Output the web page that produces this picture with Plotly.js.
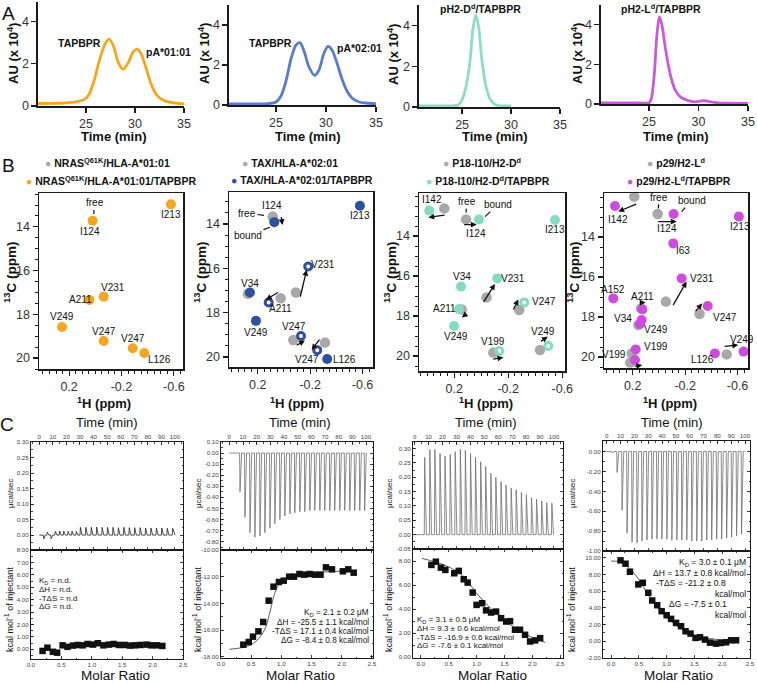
<!DOCTYPE html>
<html>
<head>
<meta charset="utf-8">
<script src="https://cdn.plot.ly/plotly-3.0.1.min.js"></script>
<style>
  html, body { margin: 0; padding: 0; background: #fff; }
  #chart { width: 757px; height: 683px; }
</style>
</head>
<body>
<div id="chart"></div>
<script>
// TAPBPR figure: SEC traces (A), methyl NMR (B), ITC (C)

// ---- A: size exclusion traces ----
const secTimeA1 = [20.1, 21, 22, 23, 24, 24.8, 25.3, 25.8, 26.3, 26.9, 27.35, 27.8, 28.3, 28.8, 29.3, 29.8, 30.2, 30.6, 31.1, 31.6, 32.1, 32.6, 33.2, 34, 35];
const secAuA1 = [0.12, 0.12, 0.13, 0.15, 0.2, 0.3, 0.55, 1.15, 2.05, 2.9, 3.17, 2.85, 2.05, 1.75, 2.05, 2.55, 2.7, 2.5, 1.85, 1.1, 0.6, 0.35, 0.22, 0.15, 0.1];
const secTimeA2 = [20.3, 22, 24, 24.6, 25, 25.5, 26, 26.5, 27, 27.4, 27.8, 28.3, 28.85, 29.3, 29.8, 30.2, 30.6, 31.1, 31.6, 32.1, 32.6, 33.3, 34, 35];
const secAuA2 = [0.05, 0.05, 0.06, 0.09, 0.15, 0.45, 1.2, 2.3, 3.0, 3.12, 2.7, 1.9, 1.48, 1.75, 2.6, 2.93, 2.75, 2.1, 1.3, 0.7, 0.35, 0.15, 0.1, 0.06];
const secTimeA3 = [20.6, 22, 24, 24.6, 25, 25.4, 25.8, 26.1, 26.4, 26.7, 27.0, 27.4, 27.8, 28.2, 28.6, 29, 30];
const secAuA3 = [0.05, 0.05, 0.06, 0.1, 0.35, 1.0, 2.2, 3.8, 4.5, 3.9, 2.4, 1.1, 0.45, 0.18, 0.08, 0.06, 0.05];
const secTimeA4 = [20.15, 22, 24, 25, 25.2, 25.5, 25.8, 26.05, 26.3, 26.6, 26.9, 27.3, 27.7, 28.2, 28.7, 29.2, 29.7, 30.2, 30.6, 31.1, 32, 33, 35];
const secAuA4 = [0.05, 0.05, 0.05, 0.06, 0.2, 1.3, 3.5, 4.4, 4.0, 3.0, 2.1, 1.2, 0.65, 0.35, 0.22, 0.14, 0.11, 0.15, 0.17, 0.12, 0.06, 0.04, 0.03];
const secColors = ['#f4a622', '#5b7cc6', '#8fdcc3', '#c95ad8'];

// ---- B: NMR peaks (ppm) ----
const b1PeakX = [0.02, -0.578, 0.046, -0.064, 0.254, -0.064, -0.286, -0.374];
const b1PeakY = [13.72, 12.97, 17.34, 17.19, 18.58, 19.22, 19.55, 19.77];
const b1LabText = ['I124', 'I213', 'A211', 'V231', 'V249', 'V247', 'V247', 'L126'];
const b1LabX = [0.043, -0.578, 0.114, -0.133, 0.254, -0.067, -0.286, -0.489];
const b1LabY = [14.22, 13.42, 17.3, 16.78, 18.11, 18.78, 19.12, 20.06];

const b2GreyX = [0.086, 0.275, 0.025, -0.091, -0.071, -0.313];
const b2GreyY = [13.67, 17.15, 17.35, 17.09, 19.23, 19.35];
const b2FillX = [0.074, -0.58, 0.26, 0.214, -0.33];
const b2FillY = [13.92, 13.18, 17.09, 18.37, 20.09];
const b2OpenX = [-0.185, 0.117, -0.13, -0.254];
const b2OpenY = [15.92, 17.54, 19.05, 19.69];
const b2LabText = ['I124', 'I213', 'V231', 'V34', 'A211', 'V249', 'V247', 'V247', 'L126'];
const b2LabX = [0.094, -0.58, -0.295, 0.26, 0.03, 0.21, -0.08, -0.173, -0.466];
const b2LabY = [13.19, 13.6, 15.85, 16.7, 17.8, 18.88, 18.63, 20.09, 20.13];
const b2Arrows = [[0.022, 13.62, 0.012, 14.05], [-0.122, 17.35, -0.173, 16.07], [0.036, 17.05, 0.138, 17.42], [-0.086, 19.5, -0.16, 19.26], [-0.28, 19.15, -0.211, 19.68]];

const b3GreyX = [0.273, 0.112, -0.04, 0.144, -0.282, -0.09, -0.435];
const b3GreyY = [12.62, 13.17, 17.07, 17.67, 17.7, 19.83, 19.7];
const b3FillX = [0.384, 0.016, -0.546, 0.149, -0.119, 0.164, 0.2];
const b3FillY = [12.73, 13.17, 13.2, 16.53, 16.12, 17.65, 18.5];
const b3OpenX = [-0.319, -0.134, -0.496];
const b3OpenY = [17.32, 19.75, 19.5];
const b3LabText = ['I142', 'I124', 'I213', 'V34', 'V231', 'A211', 'V249', 'V247', 'V199', 'V249'];
const b3LabX = [0.366, 0.041, -0.546, 0.144, -0.233, 0.268, 0.19, -0.467, -0.09, -0.459];
const b3LabY = [12.2, 13.87, 13.7, 16.03, 16.12, 17.62, 19.03, 17.28, 19.28, 18.79];
const b3Arrows = [[0.26, 12.95, 0.391, 13.07], [0.137, 13.43, 0.033, 13.43], [-0.011, 17.37, -0.102, 16.4], [0.103, 17.87, 0.144, 18.07], [-0.233, 17.75, -0.275, 17.17], [-0.078, 20.17, -0.164, 20.07], [-0.43, 19.33, -0.492, 19.03]];

const b4GreyX = [0.189, 0.01, -0.053, 0.138, 0.158, -0.31, 0.209, 0.22, -0.517];
const b4GreyY = [11.98, 12.85, 17.23, 17.57, 18.4, 17.85, 19.82, 20.28, 19.87];
const b4FillX = [0.336, -0.112, -0.61, -0.109, -0.173, 0.349, 0.127, 0.132, 0.145, -0.372, 0.178, 0.183, -0.427, -0.646];
const b4FillY = [12.45, 12.85, 12.98, 14.32, 16.07, 17.07, 17.62, 18.15, 18.35, 17.45, 19.62, 20.15, 19.82, 19.73];
const b4LabText = ['I142', 'I124', 'I213', 'I63', 'V231', 'A152', 'A211', 'V34', 'V249', 'V247', 'V199', 'V199', 'L126', 'V249'];
const b4LabX = [0.315, -0.059, -0.62, -0.185, -0.326, 0.349, 0.127, 0.273, 0.025, -0.504, 0.025, 0.341, -0.33, -0.631];
const b4LabY = [13.15, 13.57, 13.48, 14.68, 16.07, 16.62, 16.98, 18.07, 18.62, 18.02, 19.48, 19.9, 20.15, 19.15];
const b4Arrows = [[0.163, 12.32, 0.311, 12.73], [0.018, 13.23, -0.135, 13.23], [-0.102, 17.48, -0.211, 16.23], [0.153, 17.28, 0.102, 17.28], [-0.27, 17.78, -0.33, 17.32], [0.196, 20.48, 0.128, 20.4], [-0.49, 19.48, -0.605, 19.4]];

// free / bound leader labels: [x, y, ax, ay]
const freeMarks = [[0.012, 13.41, 1, -11], [0.153, 13.61, -17, -2], [0.112, 12.83, 1, -11], [0.005, 12.57, 1, -11]];
const boundMarks = [null, [0.107, 14.15, -22, 8], [-0.028, 13.03, 13, -12], [-0.173, 12.73, 10, -11]];

const legendGrey = ['NRAS<sup>Q61K</sup>/HLA-A*01:01', 'TAX/HLA-A*02:01', 'P18-I10/H2-D<sup>d</sup>', 'p29/H2-L<sup>d</sup>'];
const legendColor = ['NRAS<sup>Q61K</sup>/HLA-A*01:01/TAPBPR', 'TAX/HLA-A*02:01/TAPBPR', 'P18-I10/H2-D<sup>d</sup>/TAPBPR', 'p29/H2-L<sup>d</sup>/TAPBPR'];
const nmrColors = ['#f4a622', '#2f4f9f', '#84dbbf', '#cc4ddc'];
const nmrGrey = '#a8a8a8';

// ---- C: ITC raw injections (time min, peak ucal/sec) ----
const itcTimeC1 = [3, 5.6, 8.4, 11.5, 14.7, 17.7, 20.9, 23.8, 27, 30, 34, 38, 42, 46, 50, 54, 58, 62, 66, 70, 74, 78, 82, 86, 90, 94, 98];
const itcPeakC1 = [-0.012, 0.01, -0.012, 0.012, 0.013, 0.013, 0.012, 0.013, 0.012, 0.025, 0.025, 0.025, 0.026, 0.025, 0.025, 0.025, 0.024, 0.025, 0.024, 0.024, 0.024, 0.023, 0.023, 0.023, 0.023, 0.022, 0.022];
const itcTimeC2 = [7.5, 11.1, 14.8, 18.4, 22.1, 25.7, 29.4, 33, 36.7, 40.3, 44, 47.6, 51.3, 54.9, 58.6, 62.2, 65.9, 69.5, 73.2, 76.8, 80.5, 84.1, 87.8, 91.4, 95.1, 98.7];
const itcPeakC2 = [-0.35, -0.58, -0.72, -0.76, -0.75, -0.72, -0.68, -0.64, -0.6, -0.57, -0.55, -0.54, -0.53, -0.53, -0.52, -0.52, -0.52, -0.52, -0.52, -0.52, -0.52, -0.52, -0.52, -0.52, -0.52, -0.52];
const itcTimeC3 = [6.9, 10.6, 14.2, 17.9, 21.5, 25.2, 28.8, 32.5, 36.1, 39.8, 43.4, 47.1, 50.7, 54.4, 58, 61.7, 65.3, 69, 72.6, 76.3, 79.9, 83.6, 87.2, 90.9, 94.5, 98.2];
const itcPeakC3 = [0.27, 0.297, 0.297, 0.283, 0.274, 0.28, 0.289, 0.297, 0.294, 0.283, 0.27, 0.254, 0.237, 0.214, 0.2, 0.185, 0.173, 0.162, 0.156, 0.147, 0.139, 0.129, 0.124, 0.118, 0.112, 0.11];
const itcTimeC4 = [3.6, 7.2, 10.8, 14.4, 18, 21.6, 25.2, 28.8, 32.4, 36, 39.6, 43.2, 46.8, 50.4, 54, 57.6, 61.2, 64.8, 68.4, 72, 75.6, 79.2, 82.8, 86.4, 90, 93.6, 97.2];
const itcPeakC4 = [-0.015, -0.21, -0.59, -0.82, -0.91, -0.92, -0.9, -0.89, -0.88, -0.88, -0.88, -0.88, -0.89, -0.89, -0.89, -0.89, -0.9, -0.9, -0.9, -0.89, -0.89, -0.88, -0.88, -0.87, -0.86, -0.85, -0.83];

// ---- C: integrated heats (molar ratio, kcal/mol) ----
const isoXC1 = [0.19, 0.27, 0.36, 0.43, 0.52, 0.6, 0.69, 0.77, 0.85, 0.93, 1.02, 1.1, 1.19, 1.28, 1.36, 1.45, 1.54, 1.63, 1.71, 1.8, 1.9, 1.98, 2.07, 2.16];
const isoYC1 = [-0.13, 0.13, -0.2, -0.27, 0.32, 0.2, 0.3, 0.35, 0.32, 0.43, 0.38, 0.49, 0.32, 0.38, 0.43, 0.35, 0.35, 0.3, 0.32, 0.35, 0.38, 0.32, 0.32, 0.27];
const isoXC2 = [0.37, 0.46, 0.53, 0.62, 0.7, 0.79, 0.87, 0.96, 1.04, 1.13, 1.21, 1.3, 1.38, 1.47, 1.56, 1.65, 1.74, 1.84, 2.02, 2.11, 2.2];
const isoYC2 = [-17.1, -16.9, -16.5, -16.1, -15.4, -13.8, -12.75, -12.4, -12.3, -12.0, -12.0, -11.8, -11.85, -11.8, -11.85, -11.85, -11.3, -11.45, -11.6, -11.45, -11.7];
const fitXC2 = [0.14, 0.37, 0.54, 0.65, 0.74, 0.82, 0.89, 0.96, 1.07, 1.27, 1.55, 1.94, 2.25];
const fitYC2 = [-17.45, -17.3, -17.0, -16.5, -15.8, -14.5, -13.25, -12.6, -12.2, -11.9, -11.7, -11.6, -11.57];
const isoXC3 = [0.19, 0.27, 0.36, 0.44, 0.6, 0.68, 0.77, 0.84, 0.93, 1.0, 1.1, 1.17, 1.26, 1.35, 1.44, 1.53, 1.6, 1.69, 1.78, 1.87, 1.96, 2.05, 2.14];
const isoYC3 = [7.7, 7.97, 7.47, 7.28, 7.0, 7.2, 6.5, 6.22, 5.39, 4.36, 4.5, 3.9, 3.72, 3.8, 3.25, 2.97, 3.0, 2.28, 2.28, 1.86, 1.3, 1.39, 1.58];
const fitXC3 = [0.02, 0.47, 0.77, 1.0, 1.25, 1.49, 1.72, 1.96, 2.23];
const fitYC3 = [8.25, 7.6, 6.72, 5.33, 4.08, 3.1, 2.33, 1.72, 1.22];
const isoXC4 = [0.17, 0.26, 0.34, 0.49, 0.57, 0.67, 0.74, 0.83, 0.91, 1.0, 1.08, 1.17, 1.26, 1.34, 1.43, 1.52, 1.6, 1.69, 1.78, 1.89, 1.98, 2.07, 2.16, 2.25];
const isoYC4 = [9.68, 9.28, 8.32, 6.8, 7.0, 5.8, 4.88, 4.32, 3.6, 3.12, 2.68, 2.2, 1.8, 1.2, 0.92, 0.4, 0.48, 0.2, -0.16, -0.28, -0.2, -0.12, 0.12, 0.12];
const fitXC4 = [0.0, 0.17, 0.32, 0.5, 0.68, 0.86, 1.04, 1.28, 1.52, 1.77, 2.0, 2.25];
const fitYC4 = [9.6, 9.48, 8.8, 7.4, 5.4, 3.8, 2.6, 1.4, 0.68, 0.32, 0.2, 0.2];

const itcTextC1 = ['K<sub>D</sub> = n.d.', 'ΔH = n.d.', '-TΔS = n.d', 'ΔG = n.d.'];
const itcTextC2 = ['K<sub>D</sub> = 2.1 ± 0.2 μM', 'ΔH = -25.5 ± 1.1 kcal/mol', '-TΔS = 17.1 ± 0.4 kcal/mol', 'ΔG = -8.4 ± 0.8 kcal/mol'];
const itcTextC3 = ['K<sub>D</sub> = 3.1 ± 0.5 μM', 'ΔH = 9.3 ± 0.6 kcal/mol', '-TΔS = -16.9 ± 0.6 kcal/mol', 'ΔG = -7.6 ± 0.1 kcal/mol'];
const itcTextC4 = ['K<sub>D</sub> = 3.0 ± 0.1 μM', 'ΔH = 13.7 ± 0.8 kcal/mol', '-TΔS = -21.2 ± 0.8', 'kcal/mol', 'ΔG = -7.5 ± 0.1', 'kcal/mol'];

// ---------------------------------------------------------------
const W = 757, H = 683;
const FONT = 'Arial, "Liberation Sans", sans-serif';
const dom = (a, b) => [a / W, b / W];
const domY = (top, bottom) => [1 - bottom / H, 1 - top / H];
const sfx = n => (n === 1 ? '' : String(n));

const traces = [];
const annotations = [];
const layout = {
    width: W, height: H,
    margin: { l: 0, r: 0, t: 0, b: 0 },
    paper_bgcolor: '#fff', plot_bgcolor: 'rgba(0,0,0,0)',
    showlegend: false,
    font: { family: FONT, color: '#111' },
    annotations: annotations
};

const baseAxis = { showgrid: false, zeroline: false, showline: true, linecolor: '#1a1a1a', tickcolor: '#1a1a1a', fixedrange: true };

function setAxes(n, xd, yd, xopt, yopt) {
    layout['xaxis' + sfx(n)] = Object.assign({ domain: xd, anchor: 'y' + sfx(n) }, baseAxis, xopt);
    layout['yaxis' + sfx(n)] = Object.assign({ domain: yd, anchor: 'x' + sfx(n) }, baseAxis, yopt);
}

function note(x, y, text, size, opts) {
    return Object.assign({
        xref: 'paper', yref: 'paper', x: x / W, y: 1 - y / H, text: text, showarrow: false,
        xanchor: 'center', yanchor: 'middle', font: { family: FONT, size: size, color: '#111' }
    }, opts || {});
}

const fmt = (vals, d) => vals.map(v => v.toFixed(d));

// ---- Row A ----
const secX = [[38, 184], [229, 376], [419, 560], [601, 748]];
const secY = [[2, 106], [5, 105], [5, 107], [5, 104]];
const secXr = [[20.1, 35], [20.3, 35], [20.6, 35], [20.15, 35]];
const secYr = [[0, 4.93], [0, 5], [0, 5], [0, 5]];
const secTimes = [secTimeA1, secTimeA2, secTimeA3, secTimeA4];
const secAus = [secAuA1, secAuA2, secAuA3, secAuA4];

secTimes.forEach((t, i) => {
    const n = i + 1;
    setAxes(n, dom(secX[i][0], secX[i][1]), domY(secY[i][0], secY[i][1]),
        { range: secXr[i], tickvals: [25, 30, 35], ticks: 'outside', ticklen: 5, tickwidth: 1.3, linewidth: 1.6,
          tickfont: { size: 12.5, color: '#333' } },
        { range: secYr[i], tickvals: [0, 2, 4], ticks: 'outside', ticklen: 5, tickwidth: 1.3, linewidth: 1.6,
          tickfont: { size: 12.5, color: '#333' } });
    traces.push({
        x: t, y: secAus[i], xaxis: 'x' + sfx(n), yaxis: 'y' + sfx(n), type: 'scatter', mode: 'lines',
        line: { color: secColors[i], width: 2.8, shape: 'spline', smoothing: 0.8 }, hoverinfo: 'skip'
    });
});

const auX = [13, 204, 393, 577];
const timeAX = [114, 308, 495, 676];
auX.forEach((x, i) => {
    annotations.push(note(x, 54, '<b>AU (x 10<sup>4</sup>)</b>', 13, { textangle: -90 }));
    annotations.push(note(timeAX[i], 136, '<b>Time (min)</b>', 13));
});
annotations.push(note(79, 43, '<b>TAPBPR</b>', 10.5));
annotations.push(note(168, 52, '<b>pA*01:01</b>', 10.5));
annotations.push(note(270, 43, '<b>TAPBPR</b>', 10.5));
annotations.push(note(359, 48, '<b>pA*02:01</b>', 10.5));
annotations.push(note(480, 8, '<b>pH2-D<sup>d</sup>/TAPBPR</b>', 10.5));
annotations.push(note(661, 8, '<b>pH2-L<sup>d</sup>/TAPBPR</b>', 10.5));
annotations.push(note(8, 14, 'A', 19));
annotations.push(note(8, 165, 'B', 19));
annotations.push(note(7, 424, 'C', 19));

// ---- Row B ----
const nmrX = [[39, 183], [229, 373], [419, 565], [604, 748]];
const nmrY = [[193, 369], [192, 367], [193, 371], [193, 368]];
const nmrXr = [[0.43, -0.67], [0.42, -0.68], [0.46, -0.62], [0.42, -0.68]];
const nmrYr = [[20.5, 12.45], [20.45, 12.56], [20.75, 11.85], [20.55, 11.8]];
const hTicks = [0.2, -0.2, -0.6];
const cTicks = [14, 16, 18, 20];

const nmrGreyX = [[], b2GreyX, b3GreyX, b4GreyX];
const nmrGreyY = [[], b2GreyY, b3GreyY, b4GreyY];
const nmrFillX = [b1PeakX, b2FillX, b3FillX, b4FillX];
const nmrFillY = [b1PeakY, b2FillY, b3FillY, b4FillY];
const nmrOpenX = [[], b2OpenX, b3OpenX, []];
const nmrOpenY = [[], b2OpenY, b3OpenY, []];
const nmrLabText = [b1LabText, b2LabText, b3LabText, b4LabText];
const nmrLabX = [b1LabX, b2LabX, b3LabX, b4LabX];
const nmrLabY = [b1LabY, b2LabY, b3LabY, b4LabY];
const nmrArrows = [[], b2Arrows, b3Arrows, b4Arrows];

const legend1X = [107, 290, 482, 676];
const legend2X = [111, 302, 488, 679];
const cTitleX = [10, 200, 390, 573];
const hTitleX = [104, 297, 486, 670];

nmrX.forEach((xr, i) => {
    const n = i + 5;
    const xa = 'x' + n, ya = 'y' + n;
    setAxes(n, dom(xr[0], xr[1]), domY(nmrY[i][0], nmrY[i][1]),
        { range: nmrXr[i], mirror: true, linewidth: 1.5, ticks: 'outside', ticklen: 5, tickwidth: 1.2,
          tickvals: hTicks, ticktext: hTicks.map(String), tickfont: { size: 12.5, color: '#333' },
          minor: { tickmode: 'linear', tick0: 0, dtick: 0.05, ticks: 'outside', ticklen: 3, tickwidth: 1, tickcolor: '#1a1a1a' } },
        { range: nmrYr[i], mirror: true, linewidth: 1.5, ticks: 'outside', ticklen: 5, tickwidth: 1.2,
          tickvals: cTicks, tickfont: { size: 12.5, color: '#333' },
          minor: { tickmode: 'linear', tick0: 0, dtick: 0.5, ticks: 'outside', ticklen: 3, tickwidth: 1, tickcolor: '#1a1a1a' } });

    if (nmrGreyX[i].length) {
        traces.push({ x: nmrGreyX[i], y: nmrGreyY[i], xaxis: xa, yaxis: ya, mode: 'markers',
            marker: { color: nmrGrey, size: 10.5 }, hoverinfo: 'skip' });
    }
    traces.push({ x: nmrFillX[i], y: nmrFillY[i], xaxis: xa, yaxis: ya, mode: 'markers',
        marker: { color: nmrColors[i], size: 10 }, hoverinfo: 'skip' });
    if (nmrOpenX[i].length) {
        traces.push({ x: nmrOpenX[i], y: nmrOpenY[i], xaxis: xa, yaxis: ya, mode: 'markers',
            marker: { symbol: 'circle-open', color: nmrColors[i], size: 7, line: { width: 3 } }, hoverinfo: 'skip' });
    }

    nmrLabText[i].forEach((t, k) => {
        annotations.push({ xref: xa, yref: ya, x: nmrLabX[i][k], y: nmrLabY[i][k], text: t, showarrow: false,
            font: { family: FONT, size: 10, color: '#111' } });
    });
    nmrArrows[i].forEach(a => {
        annotations.push({ xref: xa, yref: ya, axref: xa, ayref: ya, x: a[2], y: a[3], ax: a[0], ay: a[1], text: '',
            showarrow: true, arrowhead: 2, arrowsize: 0.9, arrowwidth: 1.3, arrowcolor: '#111', standoff: 0 });
    });
    [freeMarks[i], boundMarks[i]].forEach((m, k) => {
        if (!m) return;
        annotations.push({ xref: xa, yref: ya, x: m[0], y: m[1], ax: m[2], ay: m[3], text: k ? 'bound' : 'free',
            showarrow: true, arrowhead: 0, arrowwidth: 1.2, arrowcolor: '#111', standoff: 0,
            font: { family: FONT, size: 10, color: '#111' } });
    });

    annotations.push(note(legend1X[i], 163, '<span style="color:' + nmrGrey + '">●</span> <b>' + legendGrey[i] + '</b>', 10.5));
    annotations.push(note(legend2X[i], 180, '<span style="color:' + nmrColors[i] + '">●</span> <b>' + legendColor[i] + '</b>', 10.5));
    annotations.push(note(cTitleX[i], 272, '<b><sup>13</sup>C (ppm)</b>', 13.5, { textangle: -90 }));
    annotations.push(note(hTitleX[i], 403, '<b><sup>1</sup>H (ppm)</b>', 13));
});

// ---- Row C ----
const itcX = [[31, 183], [221, 373], [413, 563], [603, 750]];
const itcTop = [[442, 550], [442, 550], [442, 549], [441, 551]];
const itcBot = [[550, 659], [550, 658], [549, 658], [551, 658]];
const timeRanges = [[-6.1, 105.9], [-6.1, 105.1], [-1.2, 106.5], [-2.7, 103.6]];
const rawRanges = [[-0.048, 0.30], [-0.877, 0.10], [-0.05, 0.323], [-1.0, 0.106]];
const rawTicks = [[0, 0.05, 0.1, 0.15, 0.2, 0.25, 0.3], [0.1, 0, -0.1, -0.2, -0.3, -0.4, -0.5, -0.6, -0.7, -0.8],
    [-0.05, 0, 0.05, 0.1, 0.15, 0.2, 0.25, 0.3], [0, -0.2, -0.4, -0.6, -0.8, -1.0]];
const rawMinor = [0.025, 0.05, 0.025, 0.1];
const molarRanges = [[0, 2.5], [0, 2.52], [-0.14, 2.55], [-0.145, 2.5]];
const heatRanges = [[-0.78, 8.0], [-18.1, -10], [-0.08, 9.03], [-2, 10.8]];
const heatTicks = [[0, 1, 2, 3, 4, 5, 6, 7, 8], [-18, -16, -14, -12, -10], [0, 2, 4, 6, 8], [-2, 0, 2, 4, 6, 8, 10]];
const heatMinor = [0.5, 1, 1, 1];
const itcTimes = [itcTimeC1, itcTimeC2, itcTimeC3, itcTimeC4];
const itcPeaks = [itcPeakC1, itcPeakC2, itcPeakC3, itcPeakC4];
const rawColors = ['#222', '#6e6e6e', '#6e6e6e', '#6e6e6e'];
const isoX = [isoXC1, isoXC2, isoXC3, isoXC4];
const isoY = [isoYC1, isoYC2, isoYC3, isoYC4];
const fitX = [[], fitXC2, fitXC3, fitXC4];
const fitY = [[], fitYC2, fitYC3, fitYC4];
const timeTicks = [0, 10, 20, 30, 40, 50, 60, 70, 80, 90, 100];
const molarTicks = [0, 0.5, 1, 1.5, 2, 2.5];

const itcTick = { ticks: 'inside', ticklen: 3, tickwidth: 0.8, linewidth: 1, mirror: 'allticks', tickfont: { size: 6.2, color: '#444' } };

// raw power trace: flat baseline with one sharp spike per injection
function spikeLine(times, peaks, t0, t1) {
    const x = [t0], y = [0];
    times.forEach((t, i) => {
        x.push(t, t + 0.3, t + 1.5);
        y.push(0, peaks[i], 0);
    });
    x.push(t1);
    y.push(0);
    return { x: x, y: y };
}

itcX.forEach((xr, i) => {
    const nt = i + 9, nb = i + 13;
    setAxes(nt, dom(xr[0], xr[1]), domY(itcTop[i][0], itcTop[i][1]),
        Object.assign({}, itcTick, { range: timeRanges[i], side: 'top', tickvals: timeTicks,
            minor: { tickmode: 'linear', tick0: 0, dtick: 5, ticks: 'inside', ticklen: 1.5, tickcolor: '#1a1a1a' } }),
        Object.assign({}, itcTick, { range: rawRanges[i], tickvals: rawTicks[i], ticktext: fmt(rawTicks[i], 2),
            minor: { tickmode: 'linear', tick0: 0, dtick: rawMinor[i], ticks: 'inside', ticklen: 1.5, tickcolor: '#1a1a1a' } }));
    setAxes(nb, dom(xr[0], xr[1]), domY(itcBot[i][0], itcBot[i][1]),
        Object.assign({}, itcTick, { range: molarRanges[i], tickvals: molarTicks, ticktext: fmt(molarTicks, 1),
            minor: { tickmode: 'linear', tick0: 0, dtick: 0.25, ticks: 'inside', ticklen: 1.5, tickcolor: '#1a1a1a' } }),
        Object.assign({}, itcTick, { range: heatRanges[i], tickvals: heatTicks[i], ticktext: fmt(heatTicks[i], 2),
            minor: { tickmode: 'linear', tick0: 0, dtick: heatMinor[i], ticks: 'inside', ticklen: 1.5, tickcolor: '#1a1a1a' } }));

    const raw = spikeLine(itcTimes[i], itcPeaks[i], 0, 100);
    traces.push({ x: raw.x, y: raw.y, xaxis: 'x' + nt, yaxis: 'y' + nt, mode: 'lines',
        line: { color: rawColors[i], width: 0.8 }, hoverinfo: 'skip' });
    if (fitX[i].length) {
        traces.push({ x: fitX[i], y: fitY[i], xaxis: 'x' + nb, yaxis: 'y' + nb, mode: 'lines',
            line: { color: '#333', width: 0.8, shape: 'spline', smoothing: 1 }, hoverinfo: 'skip' });
    }
    traces.push({ x: isoX[i], y: isoY[i], xaxis: 'x' + nb, yaxis: 'y' + nb, mode: 'markers',
        marker: { symbol: 'square', color: '#111', size: 6.5 }, hoverinfo: 'skip' });
});

const timeCX = [107, 300, 486, 672];
const molarCX = [115, 300, 492, 678];
const ucalX = [10, 198, 389, 572];
timeCX.forEach((x, i) => {
    annotations.push(note(x, 422, 'Time (min)', 13));
    annotations.push(note(molarCX[i], 675, 'Molar Ratio', 13.5));
    annotations.push(note(ucalX[i], 493, 'μcal/sec', 8, { textangle: -90 }));
    annotations.push(note(ucalX[i] - 1, 610, 'kcal mol<sup>-1</sup> of injectant', 9, { textangle: -90 }));
});

const c1Y = [581, 589, 598, 606];
itcTextC1.forEach((t, k) => annotations.push(note(37, c1Y[k], t, 8, { xanchor: 'left' })));
const c2Y = [613, 622, 631, 640];
itcTextC2.forEach((t, k) => annotations.push(note(371, c2Y[k], t, 8.2, { xanchor: 'right' })));
const c3Y = [620, 628, 637, 645];
itcTextC3.forEach((t, k) => annotations.push(note(415, c3Y[k], t, 8, { xanchor: 'left' })));
const c4Y = [562, 573, 583, 594, 604, 615];
const c4X = [748, 748, 691, 748, 698, 748];
itcTextC4.forEach((t, k) => annotations.push(note(c4X[k], c4Y[k], t, 8.5, { xanchor: (k === 2 || k === 4) ? 'center' : 'right' })));

Plotly.newPlot('chart', traces, layout, { displayModeBar: false, staticPlot: true });
</script>
</body>
</html>
